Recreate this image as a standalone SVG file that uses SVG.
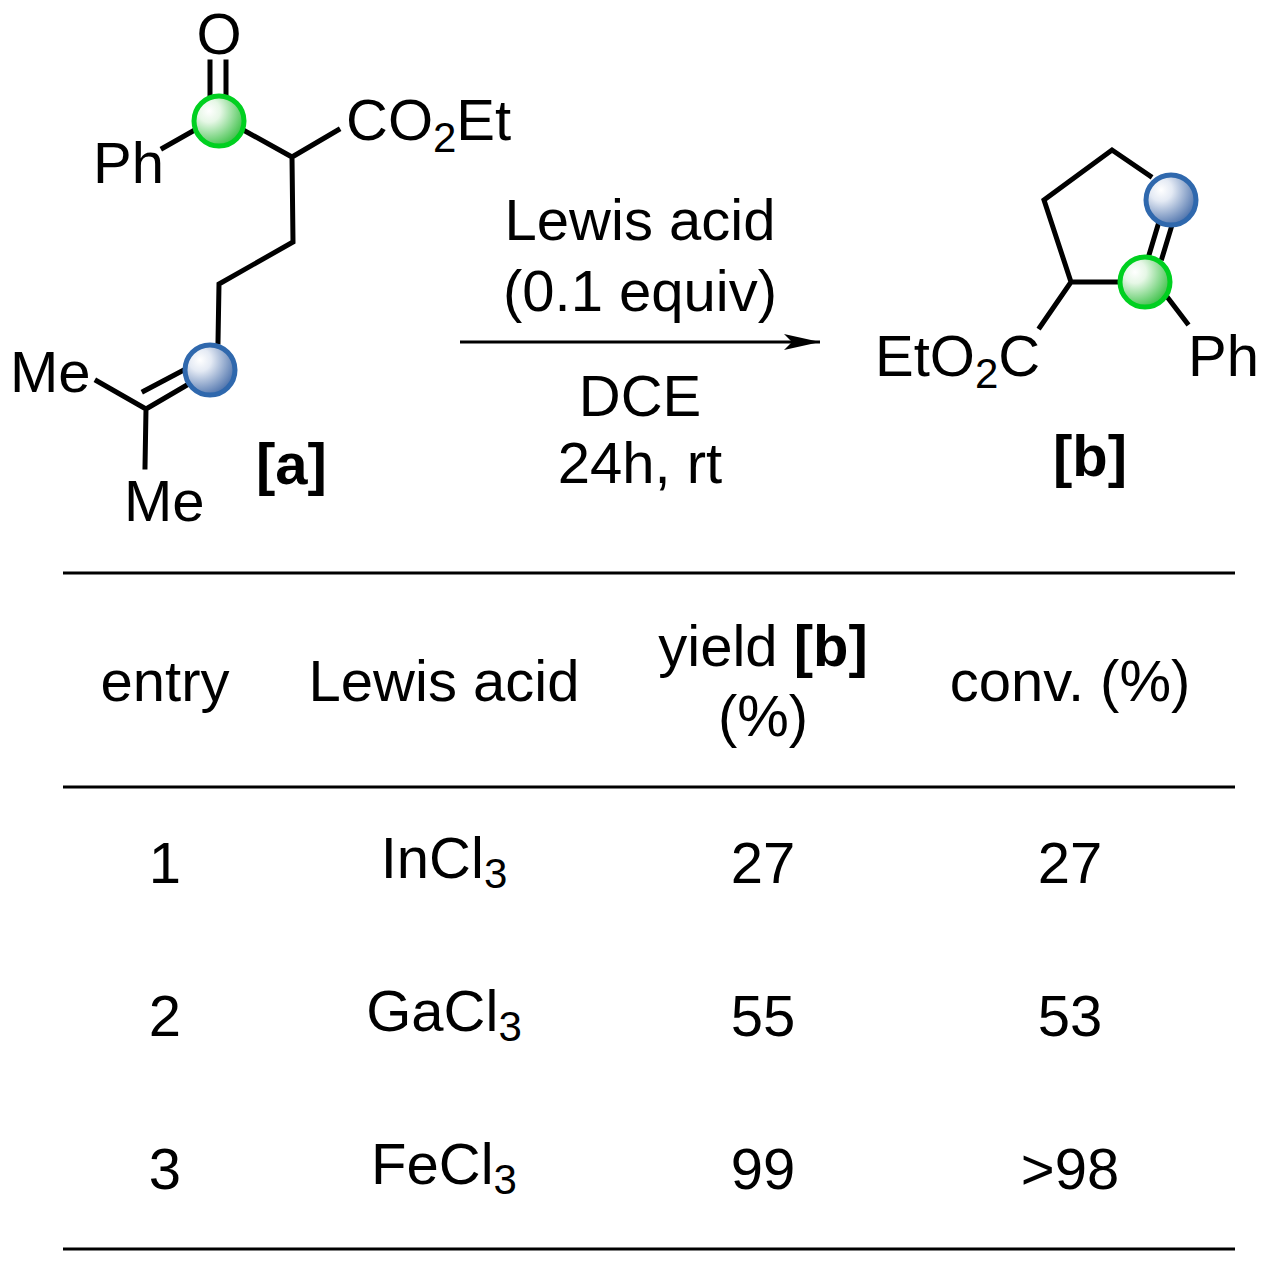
<svg xmlns="http://www.w3.org/2000/svg" width="1266" height="1264" viewBox="0 0 1266 1264">
<defs>
<radialGradient id="gg" cx="0.3" cy="0.3" r="0.75"><stop offset="0" stop-color="#ffffff"/><stop offset="0.3" stop-color="#e6f7e6"/><stop offset="1" stop-color="#3fc24a"/></radialGradient>
<radialGradient id="bg" cx="0.3" cy="0.3" r="0.75"><stop offset="0" stop-color="#ffffff"/><stop offset="0.3" stop-color="#e4eaf4"/><stop offset="1" stop-color="#4f74ad"/></radialGradient>
<marker id="ah" viewBox="0 0 36 16" refX="36" refY="8" markerWidth="36" markerHeight="16" markerUnits="userSpaceOnUse" orient="auto"><path d="M0,0 L36,8 L0,16 L8,8 z" fill="#000"/></marker>
</defs>
<style>
text{font-family:"Liberation Sans",Arial,sans-serif;font-size:58px;fill:#000}
.m{text-anchor:middle}
.b{font-weight:bold}
.bond{stroke:#000;stroke-width:5;fill:none;stroke-linecap:square}
.rule{stroke:#000;stroke-width:3}
.gb{fill:url(#gg);stroke:#00d020;stroke-width:5}
.bb{fill:url(#bg);stroke:#2f68ad;stroke-width:5}
</style>
<rect width="1266" height="1264" fill="#fff"/>
<g id="mol-a">
<path class="bond" d="M210,62V95M226,62V95M163,148L193,131M245,131L292,157L338,130M292,157L293,242L219,284L218,342M97,381L146,409L145,467M146,409L187,385M144,391L184,370"/>
<circle class="gb" cx="219" cy="121" r="25"/>
<circle class="bb" cx="210" cy="370" r="25"/>
<text x="219" y="54" class="m">O</text>
<text x="93" y="183">Ph</text>
<text x="346" y="140">CO<tspan font-size="42" dy="12">2</tspan><tspan dy="-12">Et</tspan></text>
<text x="10" y="392">Me</text>
<text x="124" y="521">Me</text>
<text x="256" y="484" class="b">[a]</text>
</g>
<g id="mol-b">
<path class="bond" d="M1150,176L1112,150L1044,200L1071,282L1120,282M1071,282L1040,327M1168,298L1187,323M1149,255L1158,225M1162,258L1172,225"/>
<circle class="bb" cx="1171" cy="200" r="25"/>
<circle class="gb" cx="1145" cy="282" r="25"/>
<text x="875" y="376">EtO<tspan font-size="42" dy="12">2</tspan><tspan dy="-12">C</tspan></text>
<text x="1188" y="376">Ph</text>
<text x="1090" y="476" class="m b">[b]</text>
</g>
<g id="connectors">
<line x1="460" y1="342" x2="820" y2="342" stroke="#000" stroke-width="3" marker-end="url(#ah)"/>
</g>
<g id="conditions">
<text x="640" y="240" class="m">Lewis acid</text>
<text x="640" y="311" class="m">(0.1 equiv)</text>
<text x="640" y="416" class="m">DCE</text>
<text x="640" y="483" class="m">24h, rt</text>
</g>
<g id="table">
<line class="rule" x1="63" y1="573" x2="1235" y2="573"/>
<line class="rule" x1="63" y1="787" x2="1235" y2="787"/>
<line class="rule" x1="63" y1="1249" x2="1235" y2="1249"/>
<text x="165" y="701" class="m">entry</text>
<text x="444" y="701" class="m">Lewis acid</text>
<text x="763" y="666" class="m">yield <tspan class="b">[b]</tspan></text>
<text x="763" y="736" class="m">(%)</text>
<text x="1070" y="701" class="m">conv.  (%)</text>
<text x="165" y="883" class="m">1</text>
<text x="444" y="878" class="m">InCl<tspan font-size="42" dy="10">3</tspan></text>
<text x="763" y="883" class="m">27</text>
<text x="1070" y="883" class="m">27</text>
<text x="165" y="1036" class="m">2</text>
<text x="444" y="1031" class="m">GaCl<tspan font-size="42" dy="10">3</tspan></text>
<text x="763" y="1036" class="m">55</text>
<text x="1070" y="1036" class="m">53</text>
<text x="165" y="1189" class="m">3</text>
<text x="444" y="1184" class="m">FeCl<tspan font-size="42" dy="10">3</tspan></text>
<text x="763" y="1189" class="m">99</text>
<text x="1070" y="1189" class="m">&gt;98</text>
</g>
</svg>
